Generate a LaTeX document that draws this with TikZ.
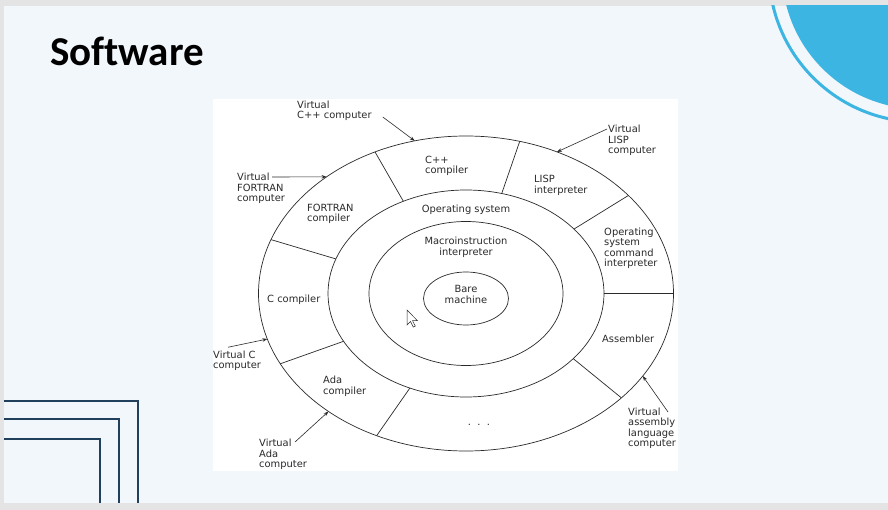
\documentclass[tikz,border=0pt]{standalone}
\usepackage{fontspec}
\setmainfont{DejaVu Sans}
\newfontfamily\titlefont[Ligatures=NoCommon]{Carlito}
\usetikzlibrary{calc,arrows.meta}
\definecolor{frame}{HTML}{E4E4E4}
\definecolor{slide}{HTML}{F2F7FC}
\definecolor{sky}{HTML}{3CB5E2}
\definecolor{navy}{HTML}{21405C}
\definecolor{ink}{HTML}{2A2A2A}
\tikzset{
  ring/.style={draw=ink, line width=0.7pt},
  ptr/.style={draw=ink, line width=0.6pt, -{Stealth[length=5pt,width=3.5pt]}},
  lab/.style={text=ink, font=\fontsize{9.9}{10.5}\selectfont, inner sep=0pt, align=left, anchor=west, yshift=-1.5pt},
  labc/.style={lab, align=center, anchor=center},
  frameline/.style={draw=navy, line width=2.2pt},
}

\begin{document}
\begin{tikzpicture}[x=1pt,y=-1pt]
  \useasboundingbox (0,0) rectangle (888,510);
  % slide
  \fill[frame] (0,0) rectangle (888,510);
  \fill[slide] (4,6) rectangle (888,503);
  \begin{scope}
    \clip (4,6) rectangle (888,503);
    \fill[sky] (920,-29) circle (138);
    \draw[sky, line width=3pt] (920,-29) circle (151);
  \end{scope}
  \draw[frameline] (4,401) -- (138,401) -- (138,503);
  \draw[frameline] (4,419) -- (119,419) -- (119,503);
  \draw[frameline] (4,439) -- (100,439) -- (100,503);
  \node[anchor=base west, inner sep=0pt, font=\titlefont\bfseries\fontsize{41}{41}\selectfont] (title) at (50,66) {Software};
  \fill[white] (213,99) rectangle (678,471);

  % layers
  \def\rxA{207.5} \def\ryA{157.5}
  \def\rxB{138}   \def\ryB{103.5}
  \coordinate (O) at (466,293.5);
  \draw[ring] (O) ellipse [x radius=\rxA, y radius=\ryA];
  \draw[ring] (O) ellipse [x radius=\rxB, y radius=\ryB];
  \draw[ring] (O) ellipse [x radius=97, y radius=72];
  \draw[ring] (466,298.5) ellipse [x radius=42.5, y radius=26.5];
  \foreach \a/\b in {244/243,285/285,321.5/321.5,0/0,41.5/39,115.5/114,153.5/152.5,200/199.5}
    \draw[ring] ($(O)+(\a:{\rxA} and {\ryA})$) -- ($(O)+(\b:{\rxB} and {\ryB})$);

  \node[labc] (bare) at (466,293) {Bare\\machine};
  \node[labc] (macro) at (466,246) {Macroinstruction\\interpreter};
  \node[labc] (os) at (466,208) {Operating system};
  \node[lab] (cpp) at (425,164.5) {C++\\compiler};
  \node[lab] (lisp) at (534,184) {LISP\\interpreter};
  \node[lab] (oscmd) at (604,247) {Operating\\system\\command\\interpreter};
  \node[lab] (asm) at (602,337) {Assembler};
  \node[labc] (dots) at (479,423) {.\ \ .\ \ .};
  \node[lab] (ada) at (323,385) {Ada\\compiler};
  \node[lab] (cc) at (267,298) {C compiler};
  \node[lab] (fortran) at (307,212.5) {FORTRAN\\compiler};

  % virtual machines
  \node[lab] (vcpp) at (297,109.5) {Virtual\\C++ computer};
  \node[lab] (vlisp) at (608,139) {Virtual\\LISP\\computer};
  \node[lab] (vfor) at (237,187) {Virtual\\FORTRAN\\computer};
  \node[lab] (vc) at (213,359.5) {Virtual C\\computer};
  \node[lab] (vada) at (259,453) {Virtual\\Ada\\computer};
  \node[lab] (vasm) at (628,427) {Virtual\\assembly\\language\\computer};
  \coordinate (tcpp) at ($(O)+(255.7:{\rxA} and {\ryA})$);
  \coordinate (tlisp) at ($(O)+(296:{\rxA} and {\ryA})$);
  \coordinate (tfor) at ($(O)+(227.8:{\rxA} and {\ryA})$);
  \coordinate (tc) at ($(O)+(163.2:{\rxA} and {\ryA})$);
  \coordinate (tada) at ($(O)+(131.5:{\rxA} and {\ryA})$);
  \coordinate (tasm) at ($(O)+(31.6:{\rxA} and {\ryA})$);
  \draw[ptr] ([shift={(11pt,-6pt)}]vcpp.east) -- (tcpp);
  \draw[ptr] ([shift={(-1pt,-4pt)}]vlisp.north west) -- (tlisp);
  \draw[ptr] ([shift={(35pt,-4pt)}]vfor.north west) -- (tfor);
  \draw[ptr] ([shift={(15pt,3.5pt)}]vc.north west) -- (tc);
  \draw[ptr] ([shift={(36pt,-3pt)}]vada.north west) -- (tada);
  \draw[ptr] ([shift={(40pt,-4.2pt)}]vasm.north west) -- (tasm);

  % pointer
  \draw[fill=white, draw=ink, line width=0.5pt] (407,310) -- ++(0,15) -- ++(3.5,-3.5)
    -- ++(2.8,5.6) -- ++(2,-1) -- ++(-2.8,-5.4) -- ++(5,0) -- cycle;
\end{tikzpicture}
\end{document}
